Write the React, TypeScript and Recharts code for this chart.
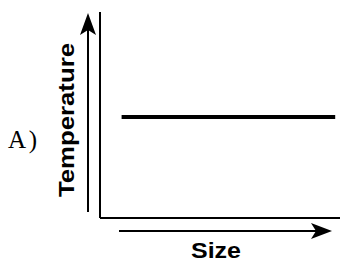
import { LineChart, Line, XAxis, YAxis, Label } from "recharts";

// sketch graph: temperature does not change with size
const sizes = [9, 98];
const temperatures = [49, 49];

const data = sizes.map((s, i) => ({ size: s, temperature: temperatures[i] }));

const SANS = "'Liberation Sans', Arial, sans-serif";

function SizeLabel(props: any) {
  const { x, y, width } = props.viewBox;
  const ay = y + 13;
  const x0 = x + 19;
  const tip = x + width - 8;
  return (
    <g>
      <line x1={x0} y1={ay} x2={tip - 16} y2={ay} stroke="#000" strokeWidth={2} />
      <polygon
        points={`${tip},${ay} ${tip - 21},${ay - 8} ${tip - 16},${ay} ${tip - 21},${ay + 8}`}
        fill="#000"
      />
      <text
        x={x + 116}
        y={y + 40}
        textAnchor="middle"
        fontFamily={SANS}
        fontWeight="bold"
        fontSize={22}
        textLength={50}
        lengthAdjust="spacingAndGlyphs"
        fill="#000"
      >
        Size
      </text>
    </g>
  );
}

function TempLabel(props: any) {
  const { x, y, width, height } = props.viewBox;
  const ex = x + width;
  const ax = ex - 12;
  const tip = y + 1;
  const cy = y + 108;
  return (
    <g>
      <line x1={ax} y1={y + height - 6} x2={ax} y2={tip + 17} stroke="#000" strokeWidth={2} />
      <polygon
        points={`${ax},${tip} ${ax - 8},${tip + 22} ${ax},${tip + 17} ${ax + 8},${tip + 22}`}
        fill="#000"
      />
      <text
        x={ex - 26}
        y={cy}
        transform={`rotate(-90 ${ex - 26} ${cy})`}
        textAnchor="middle"
        fontFamily={SANS}
        fontWeight="bold"
        fontSize={22}
        textLength={154}
        lengthAdjust="spacingAndGlyphs"
        fill="#000"
      >
        Temperature
      </text>
      <text
        x={8}
        y={148}
        fontFamily="'Liberation Serif', 'Times New Roman', serif"
        fontSize={25}
        textLength={29}
        lengthAdjust="spacing"
        fill="#000"
      >
        A)
      </text>
    </g>
  );
}

export default function App() {
  return (
    <div style={{ width: 340, height: 262, background: "#fff" }}>
      <style>{`body{margin:0;overflow:hidden}`}</style>
      <LineChart
        width={340}
        height={262}
        data={data}
        margin={{ top: 12, right: 0, bottom: 43, left: 99 }}
      >
        <XAxis
          type="number"
          dataKey="size"
          domain={[0, 100]}
          height={1}
          tick={false}
          tickLine={false}
          axisLine={{ stroke: "#000", strokeWidth: 2 }}
        >
          <Label content={SizeLabel} />
        </XAxis>
        <YAxis
          type="number"
          domain={[0, 100]}
          width={1}
          tick={false}
          tickLine={false}
          axisLine={{ stroke: "#000", strokeWidth: 2 }}
        >
          <Label content={TempLabel} />
        </YAxis>
        <Line
          type="linear"
          dataKey="temperature"
          stroke="#000"
          strokeWidth={4}
          dot={false}
          isAnimationActive={false}
        />
      </LineChart>
    </div>
  );
}
